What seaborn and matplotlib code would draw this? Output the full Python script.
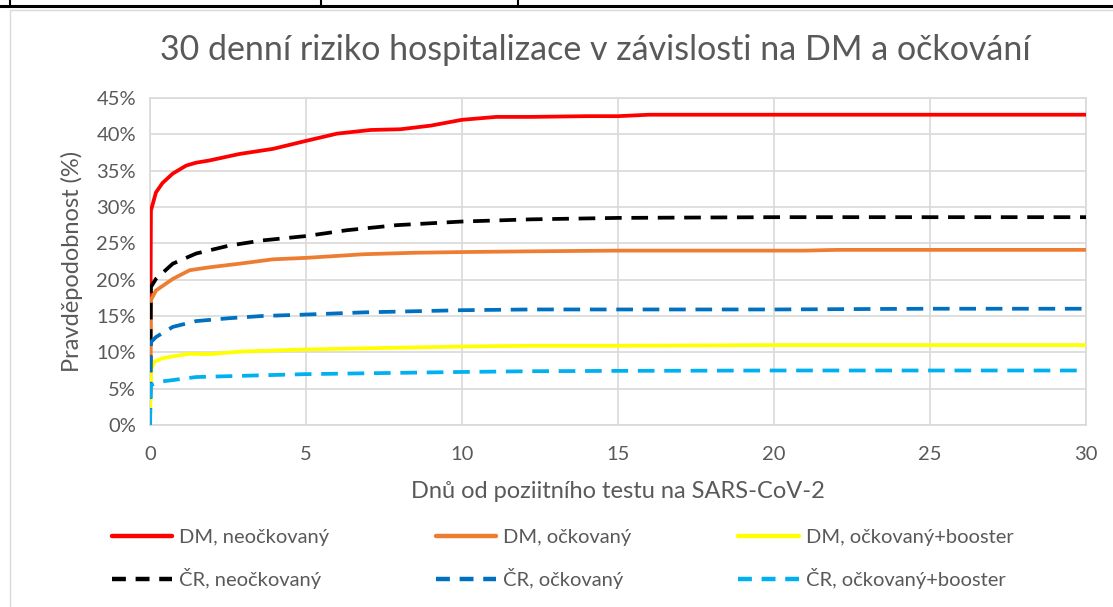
import matplotlib
matplotlib.use("Agg")
import matplotlib.pyplot as plt
import matplotlib.ticker as mticker
from matplotlib.lines import Line2D
import seaborn as sns
import pandas as pd

# days since positive test, values in %
dm_neo_x = [0, 0.03, 0.19, 0.4, 0.73, 1.16, 1.48, 1.9, 2.87, 3.94, 5, 6, 7.07, 8.03, 9, 10, 11.1, 12.2, 14, 15, 16, 20, 25, 30]
dm_neo_y = [0, 29.5, 32.0, 33.3, 34.6, 35.7, 36.1, 36.4, 37.3, 38.0, 39.1, 40.1, 40.6, 40.7, 41.2, 42.0, 42.4, 42.4, 42.5, 42.5, 42.7, 42.7, 42.7, 42.7]

dm_ock_x = [0, 0.03, 0.19, 0.73, 1.27, 1.9, 2.87, 3.94, 5, 6.85, 8.45, 10, 12.2, 15, 21, 22, 25, 30]
dm_ock_y = [0, 17.2, 18.5, 20.1, 21.3, 21.7, 22.2, 22.8, 23.0, 23.5, 23.7, 23.8, 23.9, 24.0, 24.0, 24.1, 24.1, 24.1]

dm_boost_x = [0, 0.03, 0.14, 0.4, 0.95, 1.27, 1.9, 2.9, 5, 10, 12.2, 15, 20, 25, 30]
dm_boost_y = [0, 7.6, 8.7, 9.2, 9.6, 9.8, 9.75, 10.1, 10.4, 10.8, 10.9, 10.9, 11.0, 11.0, 11.0]

cr_neo_x = [0, 0.03, 0.19, 0.73, 1.48, 2.55, 3.6, 5, 6.3, 7.9, 10, 12.2, 15, 20, 25, 30]
cr_neo_y = [0, 19.0, 20.1, 22.2, 23.6, 24.7, 25.4, 26.0, 26.8, 27.5, 28.0, 28.3, 28.5, 28.6, 28.6, 28.6]

cr_ock_x = [0, 0.03, 0.19, 0.73, 1.48, 2.55, 3.6, 5, 6.85, 10, 12.2, 15, 20, 25, 30]
cr_ock_y = [0, 11.4, 12.1, 13.5, 14.3, 14.7, 15.0, 15.2, 15.5, 15.8, 15.9, 15.9, 15.9, 16.0, 16.0]

cr_boost_x = [0, 0.03, 0.4, 1.48, 5, 10, 12.2, 15, 20, 25, 30]
cr_boost_y = [0, 5.5, 6.0, 6.6, 7.0, 7.3, 7.4, 7.45, 7.5, 7.5, 7.5]

labels = ["DM, neočkovaný", "DM, očkovaný", "DM, očkovaný+booster",
          "ČR, neočkovaný", "ČR, očkovaný", "ČR, očkovaný+booster"]
colors = ["#FF0000", "#ED7D31", "#FFFF00", "#000000", "#0070C0", "#00B0F0"]
dashed = [False, False, False, True, True, True]
series = [(dm_neo_x, dm_neo_y), (dm_ock_x, dm_ock_y), (dm_boost_x, dm_boost_y),
          (cr_neo_x, cr_neo_y), (cr_ock_x, cr_ock_y), (cr_boost_x, cr_boost_y)]

sns.set_style("white")
plt.rcParams['font.family'] = ['Lato', 'DejaVu Sans']
plt.rcParams['lines.scale_dashes'] = False
grey_txt = "#595959"

fig = plt.figure(figsize=(11.13, 6.07), dpi=100)

# page fragment at the top: table border
fig.add_artist(Line2D([0, 1], [1 - 6 / 607, 1 - 6 / 607], color="black", lw=2.2))
for xp in [10, 321, 518]:
    fig.add_artist(Line2D([xp / 1113, xp / 1113], [1, 1 - 6 / 607], color="black", lw=1.5))
# chart frame
fig.add_artist(Line2D([10 / 1113, 1], [1 - 10 / 607, 1 - 10 / 607], color="#D9D9D9", lw=1))
fig.add_artist(Line2D([10 / 1113, 10 / 1113], [0, 1 - 10 / 607], color="#D9D9D9", lw=1))

ax = fig.add_axes([150 / 1113, 1 - 425 / 607, (1086 - 150) / 1113, (425 - 98) / 607])

for (xs, ys), lab, col, d in zip(series, labels, colors, dashed):
    df = pd.DataFrame({'x': xs, 'y': ys})
    sns.lineplot(data=df, x='x', y='y', ax=ax, color=col, linewidth=2.7,
                 linestyle=(0, (12, 7)) if d else '-', legend=False, zorder=3)

ax.set_xlim(0, 30)
ax.set_ylim(0, 45)
ax.set_xticks(range(0, 31, 5))
ax.set_yticks(range(0, 46, 5))
ax.yaxis.set_major_formatter(mticker.FuncFormatter(lambda v, p: f"{v:.0f}%"))
ax.grid(True, color="#D9D9D9", linewidth=1.2)
for s in ax.spines.values():
    s.set_color("#D9D9D9")
    s.set_linewidth(1.2)
ax.tick_params(axis='both', length=0, labelsize=14.5, colors=grey_txt, pad=10)
ax.tick_params(axis='x', pad=15)

ax.set_xlabel("Dnů od poziitního testu na SARS-CoV-2", fontsize=17, color=grey_txt, labelpad=13)
ax.set_ylabel("Pravděpodobnost (%)", fontsize=17, color=grey_txt, labelpad=10)
fig.text(0.535, 1 - 50 / 607, "30 denní riziko hospitalizace v závislosti na DM a očkování",
         ha='center', va='center', fontsize=24.5, color=grey_txt)

order = [0, 3, 1, 4, 2, 5]
handles = []
for i in order:
    handles.append(Line2D([], [], color=colors[i], linewidth=3.2,
                          linestyle=(0, (10, 7)) if dashed[i] else '-', label=labels[i]))
fig.legend(handles=handles, loc='center', bbox_to_anchor=(0.5 + 6 / 1113, 1 - 559 / 607), ncol=3,
           frameon=False, fontsize=14.5, handlelength=3.0, handletextpad=0.35,
           columnspacing=5.3, labelspacing=1.1, labelcolor=grey_txt)

plt.savefig("out.png", dpi=100)
